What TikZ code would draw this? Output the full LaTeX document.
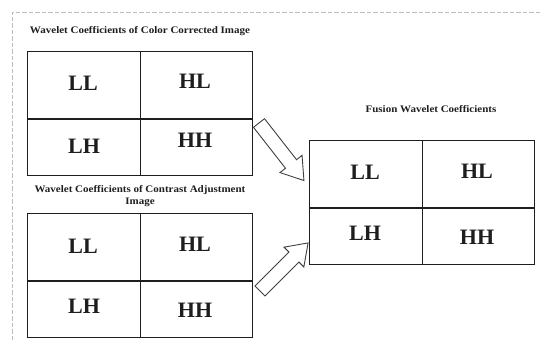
\documentclass[tikz,border=0pt]{standalone}
\usepackage{fontspec}
\setmainfont{Liberation Serif}
\usetikzlibrary{calc}
\definecolor{ink}{HTML}{1E1E1E}
\definecolor{frame}{HTML}{BDBDBD}
\tikzset{
  gridline/.style={draw=ink, line width=1.3pt},
  band/.style={font=\fontsize{22}{24}\selectfont\bfseries, text=ink, inner sep=0pt},
  caption/.style={font=\fontsize{10}{12}\selectfont\bfseries, text=ink, inner sep=0pt, align=center, xscale=1.1},
  hollowarrow/.style={draw=ink!85, line width=0.9pt, fill=white, line join=miter},
  outline/.style={draw=frame, line width=0.9pt, dash pattern=on 4.5pt off 2pt}
}
% one coefficient grid: #1 name, (#2,#3) top-left corner
\newcommand\wavegrid[3]{%
  \node[gridline, rectangle, minimum width=225pt, minimum height=124pt, inner sep=0pt, anchor=north west] (#1) at (#2,#3) {};
  \draw[gridline] ($(#1.north west)+(0,68)$) coordinate (#1-l) -- ($(#1.north east)+(0,68)$) coordinate (#1-r);
  \draw[gridline] (#1.north) -- (#1.south);
}
\begin{document}
\begin{tikzpicture}[x=1pt, y=-1pt]
\useasboundingbox (0,0) rectangle (540,342);
% dashed page outline (top and left edges)
\draw[outline] (540,12) -- (12,12) -- (12,342);

% the three grids
\wavegrid{cc}{27}{51}
\wavegrid{ca}{27}{213}
\wavegrid{fu}{309}{140}

% captions
\node[caption] (cct) at (140,31) {Wavelet Coefficients of Color Corrected Image};
\node[caption] (cat) at (140,196) {Wavelet Coefficients of Contrast Adjustment\\Image};
\node[caption] (fut) at (431,109) {Fusion Wavelet Coefficients};

% sub-band labels
\node[band] (cc-ll) at (83,83) {LL};
\node[band] (cc-hl) at (195,81) {HL};
\node[band] (cc-lh) at (84,146) {LH};
\node[band] (cc-hh) at (195,140) {HH};

\node[band] (ca-ll) at (83,246) {LL};
\node[band] (ca-hl) at (195,244) {HL};
\node[band] (ca-lh) at (84,306) {LH};
\node[band] (ca-hh) at (195,310) {HH};

\node[band] (fu-ll) at (365,172) {LL};
\node[band] (fu-hl) at (477,171) {HL};
\node[band] (fu-lh) at (365,233) {LH};
\node[band] (fu-hh) at (477,237) {HH};

% hollow block arrows into the fusion grid
\coordinate (a1) at (259,123);
\coordinate (a2) at (260,291);
\begin{scope}[shift={(a1)}, rotate=-52]
  \draw[hollowarrow] (0,-7) -- (52,-7) -- (52,-14) -- (73,0) -- (52,14) -- (52,7) -- (0,7) -- cycle;
\end{scope}
\begin{scope}[shift={(a2)}, rotate=45]
  \draw[hollowarrow] (0,-7) -- (48,-7) -- (48,-14) -- (68,0) -- (48,14) -- (48,7) -- (0,7) -- cycle;
\end{scope}
\end{tikzpicture}
\end{document}
